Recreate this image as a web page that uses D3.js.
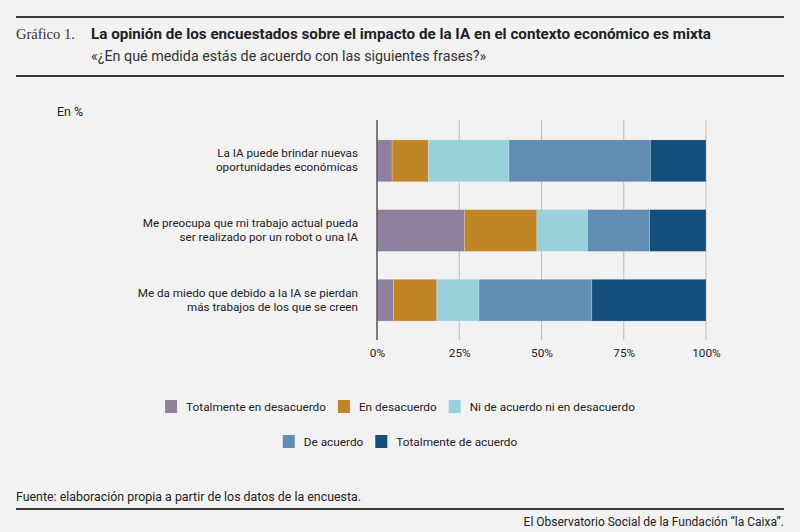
<!DOCTYPE html>
<html>
<head>
<meta charset="utf-8">
<script src="https://cdn.jsdelivr.net/npm/d3@7"></script>
<style>
  html, body { margin: 0; padding: 0; background: #f2f2f2; }
  #main { width: 800px; height: 532px; }
  text { font-family: Roboto, "Noto Sans", sans-serif; fill: #222; }
</style>
</head>
<body>
<div id="main"></div>
<script>
// Data (percent)
const statements = [
    ["La IA puede brindar nuevas", "oportunidades económicas"],
    ["Me preocupa que mi trabajo actual pueda", "ser realizado por un robot o una IA"],
    ["Me da miedo que debido a la IA se pierdan", "más trabajos de los que se creen"]
];
const seriesNames = [
    "Totalmente en desacuerdo",
    "En desacuerdo",
    "Ni de acuerdo ni en desacuerdo",
    "De acuerdo",
    "Totalmente de acuerdo"
];
const totalDesacuerdo = [4.6, 26.6, 5.0];
const enDesacuerdo = [11.0, 22.0, 13.2];
const niNi = [24.5, 15.4, 12.8];
const deAcuerdo = [43.0, 18.9, 34.3];
const totalAcuerdo = [16.9, 17.1, 34.7];
const ticks = [0, 25, 50, 75, 100];
const colors = ["#8e7f9e", "#c08526", "#98d1dc", "#628db3", "#134f7a"];

function createChart() {
    d3.select("#main svg").remove();

    const width = 800, height = 532;
    const svg = d3.select("#main").append("svg")
        .attr("width", width)
        .attr("height", height);

    // header
    svg.append("line").attr("x1", 16).attr("x2", 784).attr("y1", 17).attr("y2", 17)
        .attr("stroke", "#3a3a3a").attr("stroke-width", 2);
    svg.append("text").attr("x", 16).attr("y", 39)
        .style("font-family", "'Liberation Serif', 'DejaVu Serif', serif")
        .style("font-size", "14.5px").style("fill", "#333")
        .text("Gráfico 1.");
    svg.append("text").attr("x", 91).attr("y", 39)
        .style("font-size", "14.5px").style("font-weight", "bold")
        .attr("textLength", 620).attr("lengthAdjust", "spacingAndGlyphs")
        .text("La opinión de los encuestados sobre el impacto de la IA en el contexto económico es mixta");
    svg.append("text").attr("x", 91).attr("y", 61)
        .style("font-size", "14.3px").style("fill", "#333")
        .text("«¿En qué medida estás de acuerdo con las siguientes frases?»");
    svg.append("line").attr("x1", 16).attr("x2", 784).attr("y1", 76).attr("y2", 76)
        .attr("stroke", "#3a3a3a").attr("stroke-width", 2);

    svg.append("text").attr("x", 57).attr("y", 116)
        .style("font-size", "12.5px")
        .text("En %");

    // scales
    const x = d3.scaleLinear().domain([0, 100]).range([377, 706]);
    const y = d3.scaleBand().domain(d3.range(statements.length))
        .range([126, 335]).paddingInner(0.4).paddingOuter(0.2);

    // grid
    svg.append("g").selectAll("line")
        .data(ticks.slice(1))
        .join("line")
        .attr("x1", d => x(d)).attr("x2", d => x(d))
        .attr("y1", 120).attr("y2", 340)
        .attr("stroke", "#bdbdbd").attr("stroke-width", 1);

    // stacked bars
    const rows = statements.map((s, i) => ({
        i: i,
        vals: [totalDesacuerdo[i], enDesacuerdo[i], niNi[i], deAcuerdo[i], totalAcuerdo[i]]
    }));
    const stacked = d3.stack().keys(d3.range(5)).value((d, k) => d.vals[k])(rows);

    svg.append("g").selectAll("g")
        .data(stacked)
        .join("g")
        .attr("fill", (d, k) => colors[k])
        .selectAll("rect")
        .data(d => d)
        .join("rect")
        .attr("x", d => x(d[0]))
        .attr("width", d => x(d[1]) - x(d[0]))
        .attr("y", d => y(d.data.i))
        .attr("height", y.bandwidth())
        .attr("stroke", "#f2f2f2").attr("stroke-opacity", 0.4).attr("stroke-width", 0.6);

    // zero axis line
    svg.append("line").attr("x1", x(0)).attr("x2", x(0)).attr("y1", 120).attr("y2", 340)
        .attr("stroke", "#555").attr("stroke-width", 1.5);

    // x tick labels
    const xAxis = svg.append("g").attr("transform", "translate(0,340)")
        .call(d3.axisBottom(x).tickValues(ticks).tickSize(0).tickPadding(9).tickFormat(d => d + "%"));
    xAxis.select(".domain").remove();
    xAxis.selectAll("text").style("font-size", "11.8px").style("fill", "#222")
        .style("font-family", "Roboto, sans-serif");

    // category labels
    const lab = svg.append("g").selectAll("text")
        .data(statements)
        .join("text")
        .attr("text-anchor", "end")
        .attr("x", 358)
        .attr("y", (d, i) => y(i) + y.bandwidth() / 2)
        .style("font-size", "11.7px");
    lab.selectAll("tspan")
        .data(d => d)
        .join("tspan")
        .attr("x", 358)
        .attr("dy", (d, j) => j === 0 ? "-0.3em" : "1.2em")
        .text(d => d);

    // legend
    const legendRows = [[0, 1, 2], [3, 4]];
    const legendY = [406, 441];
    legendRows.forEach((row, r) => {
        const g = svg.append("g");
        let cx = 0;
        row.forEach(k => {
            const item = g.append("g").attr("transform", `translate(${cx},0)`);
            item.append("rect").attr("x", 0).attr("y", -6).attr("width", 12).attr("height", 13)
                .attr("fill", colors[k]);
            const t = item.append("text").attr("x", 21).attr("y", 4.5)
                .style("font-size", "11.8px").text(seriesNames[k]);
            cx += 21 + t.node().getComputedTextLength() + 12;
        });
        const w = cx - 12;
        g.attr("transform", `translate(${(400 - w / 2)},${legendY[r]})`);
    });

    // footer
    svg.append("text").attr("x", 16).attr("y", 501)
        .style("font-size", "12.4px")
        .text("Fuente: elaboración propia a partir de los datos de la encuesta.");
    svg.append("line").attr("x1", 16).attr("x2", 784).attr("y1", 509).attr("y2", 509)
        .attr("stroke", "#3a3a3a").attr("stroke-width", 2);
    svg.append("text").attr("x", 784).attr("y", 526).attr("text-anchor", "end")
        .style("font-size", "12px")
        .text("El Observatorio Social de la Fundación “la Caixa”.");
}

document.addEventListener("DOMContentLoaded", function() {
    createChart();
});
</script>
</body>
</html>
